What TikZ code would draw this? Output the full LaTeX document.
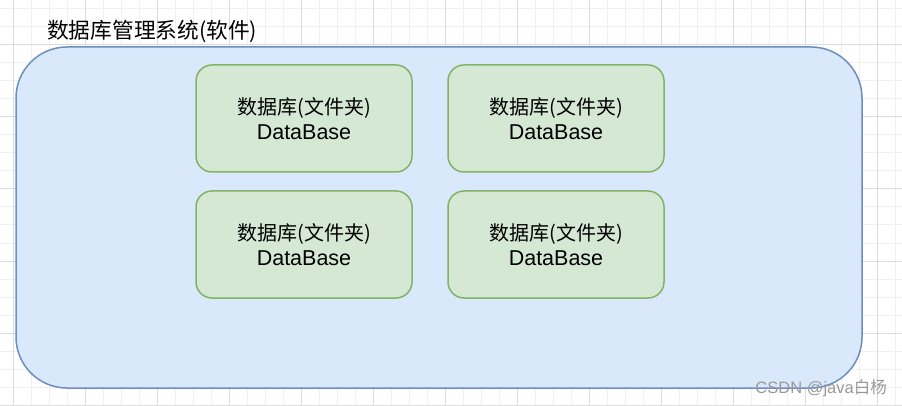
\documentclass[tikz,border=0pt]{standalone}
\usepackage{fontspec}
\setmainfont{Noto Sans CJK SC}
\newfontfamily\latin{Liberation Sans}
\usetikzlibrary{positioning}
\definecolor{sysfill}{HTML}{DAE8FC}
\definecolor{sysline}{HTML}{6C8EBF}
\definecolor{dbfill}{HTML}{D5E8D4}
\definecolor{dbline}{HTML}{82B366}
\tikzset{x=1pt, y=-1pt,
    node distance=17.5pt and 34.5pt,
    minor/.style={draw=black!6, line width=1pt},
    major/.style={draw=black!14, line width=1pt},
    system/.style={
        draw=sysline,
        fill=sysfill,
        line width=1.5pt,
        rounded corners=51pt,
        minimum width=846pt,
        minimum height=341pt},
    dbbox/.style={
        draw=dbline,
        fill=dbfill,
        line width=1.5pt,
        rounded corners=16pt,
        minimum width=216pt,
        minimum height=107pt,
        inner sep=0pt,
        align=center,
        font=\fontsize{20}{25}\selectfont},
    title/.style={font=\fontsize{21.7}{25}\selectfont, inner sep=0pt},
    mark text/.style={font=\fontsize{16.5}{18}\selectfont, text=black!40, inner sep=0pt}}
\newcommand{\dblabel}{数据库(文件夹)\\{\latin\fontsize{21.5}{25}\selectfont DataBase}}

\begin{document}
\begin{tikzpicture}
        \useasboundingbox (0,0) rectangle (902,406);
        % background grid
        \foreach \x in {13,31,...,901} \draw[minor] (\x,0) -- (\x,406);
        \foreach \y in {9,27,...,405} \draw[minor] (0,\y) -- (902,\y);
        \foreach \x in {13,85,...,877} \draw[major] (\x,0) -- (\x,406);
        \foreach \y in {45,117,...,405} \draw[major] (0,\y) -- (902,\y);
        \node[system] (sys) at (439,217.5) {};
        \node[title, anchor=west] (name) at (47,31) {数据库管理系统(软件)};
        \node[dbbox] (db1) at (304,118.5) {\dblabel};
        \node[dbbox,right=of db1] (db2) {\dblabel};
        \node[dbbox,below=of db1] (db3) {\dblabel};
        \node[dbbox,below=of db2] (db4) {\dblabel};
        \node[mark text, anchor=east] (mark) at (887,388) {{\latin CSDN @java}白杨};
    \end{tikzpicture}
\end{document}
